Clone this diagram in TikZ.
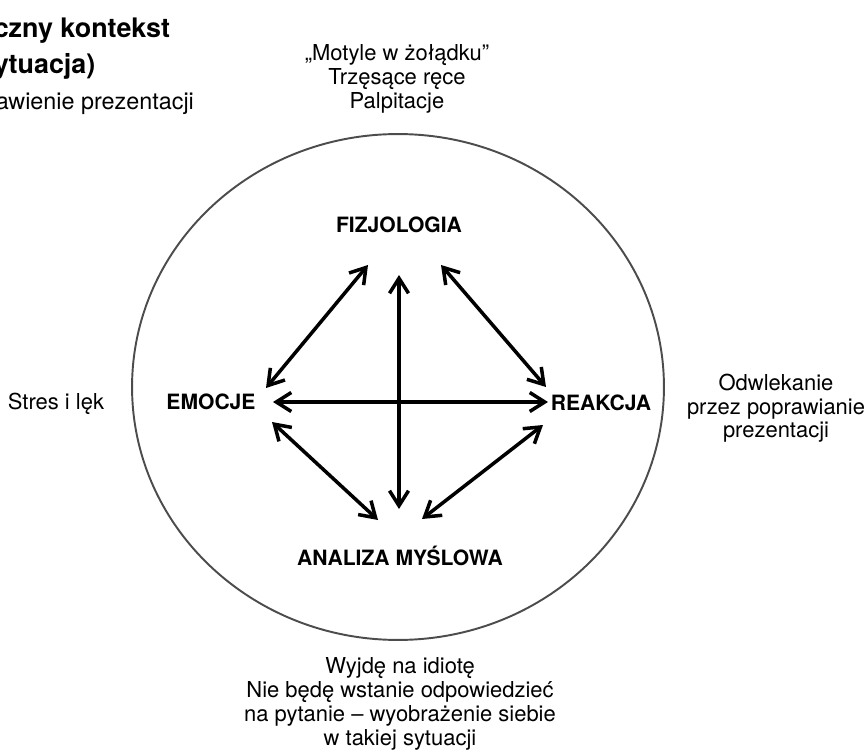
\documentclass[tikz,border=0pt]{standalone}
\usepackage{fontspec}
\setmainfont{TeX Gyre Heros}
\usetikzlibrary{arrows.meta}

\begin{document}
\begin{tikzpicture}[x=0.02cm, y=-0.02cm, <->, >={Straight Barb[length=3mm,width=3.8mm]}, line width=2pt, inner sep=0pt]
  \tikzstyle{every node}=[font=\fontsize{12.5}{13.6}\selectfont, align=center]
  \tikzstyle{pole}=[font=\bfseries\fontsize{12}{14}\selectfont, anchor=base]

  \useasboundingbox (0,0) rectangle (866,753);
  \draw[-, line width=1.1pt, black!70] (398,387) ellipse [x radius=5.32cm, y radius=5.06cm];

  % title, cut at the left edge
  \node[anchor=north west, align=left, font=\bfseries\fontsize{15.3}{20.4}\selectfont] (tyt) at (-8,16) {czny kontekst\\ytuacja)};
  \node[anchor=base west, font=\fontsize{13.3}{15}\selectfont] (pod) at (-6,110) {awienie prezentacji};

  \node[pole] (fiz) at (399,233) {FIZJOLOGIA};
  \node[pole] (emo) at (211,409) {EMOCJE};
  \node[pole] (rea) at (601,410) {REAKCJA};
  \node[pole] (ana) at (400,565) {ANALIZA MYŚLOWA};

  \node[anchor=north] (cialo) at (397,43) {„Motyle w żołądku”\\Trzęsące ręce\\Palpitacje};
  \node[anchor=base] (stres) at (56,409) {Stres i lęk};
  \node[anchor=north] (zach) at (776,372) {Odwlekanie\\przez poprawianie\\prezentacji};
  \node[anchor=north] (mysl) at (400,656) {Wyjdę na idiotę\\Nie będę wstanie odpowiedzieć\\na pytanie – wyobrażenie siebie\\w takiej sytuacji};

  \path ([shift={(55,-21)}]emo.base) edge ([shift={(-31,32)}]fiz.base)
        ([shift={(42,32)}]fiz.base)  edge ([shift={(-55,-23)}]rea.base)
        ([shift={(62,-7)}]emo.base)  edge ([shift={(-53,-8)}]rea.base)
        ([shift={(0,42)}]fiz.base)   edge ([shift={(-1,-56)}]ana.base)
        ([shift={(61,13)}]emo.base)  edge ([shift={(-22,-45)}]ana.base)
        ([shift={(-58,15)}]rea.base) edge ([shift={(22,-46)}]ana.base);
\end{tikzpicture}
\end{document}
